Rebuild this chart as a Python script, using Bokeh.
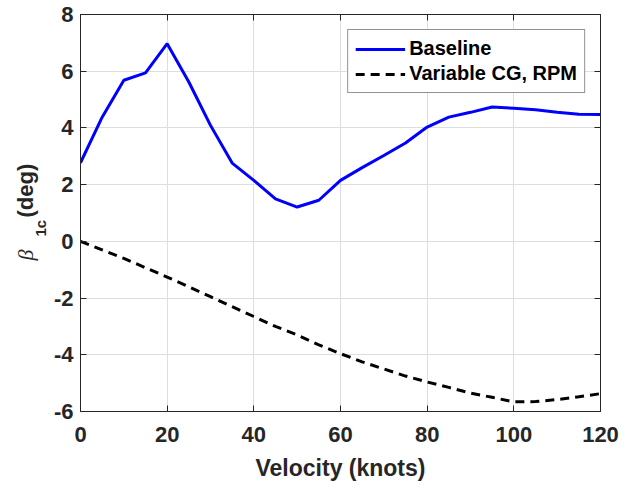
import math
from bokeh.plotting import figure
from bokeh.layouts import row
from bokeh.models import (Range1d, LinearAxis, FixedTicker, Legend, LegendItem,
                          CustomLabelingPolicy)
from bokeh.core.properties import value
from bokeh.embed import file_html
from bokeh.resources import INLINE

# ---- data ----
velocity = [0, 5, 10, 15, 20, 25, 30, 35, 40, 45, 50, 55, 60,
            65, 70, 75, 80, 85, 90, 95, 100, 105, 110, 115, 120]
baseline = [2.77, 4.38, 5.68, 5.94, 6.97, 5.62, 4.09, 2.76, 2.15, 1.50, 1.21, 1.45, 2.15,
            2.60, 3.03, 3.47, 4.03, 4.38, 4.55, 4.74, 4.69, 4.64, 4.55, 4.48, 4.47]
variable_cg_rpm = [0.0, -0.30, -0.60, -0.93, -1.26, -1.60, -1.95, -2.30, -2.65, -3.00, -3.30, -3.65, -3.96,
                   -4.25, -4.50, -4.75, -4.96, -5.15, -5.35, -5.50, -5.66, -5.65, -5.58, -5.48, -5.37]
x_ticks = [0, 20, 40, 60, 80, 100, 120]
y_ticks = [-6, -4, -2, 0, 2, 4, 6, 8]
y_tick_labels = ["-6", "-4", "-2", "0", "2", "4", "6", "8"]

AX = "#262626"
FONT = "Liberation Sans"

p = figure(width=583, height=486, output_backend="svg", toolbar_location=None,
           x_range=Range1d(0, 120), y_range=Range1d(-6, 8),
           min_border_left=28, min_border_right=33, min_border_top=14, min_border_bottom=75)
p.background_fill_color = "white"
p.border_fill_color = "white"
p.outline_line_color = AX
p.outline_line_width = 1

r1 = p.line(velocity, baseline, line_color="#0000ff", line_width=3)
r2 = p.line(velocity, variable_cg_rpm, line_color="black", line_width=3, line_dash="9 6")

for ax in (p.xaxis[0], p.yaxis[0]):
    ax.axis_line_color = AX
    ax.major_tick_line_color = AX
    ax.major_tick_in = 6
    ax.major_tick_out = 0
    ax.minor_tick_line_color = None
    ax.major_label_text_font = FONT
    ax.major_label_text_font_style = "bold"
    ax.major_label_text_font_size = "22px"
    ax.major_label_text_color = AX

p.xaxis[0].ticker = FixedTicker(ticks=x_ticks)
p.yaxis[0].ticker = FixedTicker(ticks=y_ticks)
p.yaxis[0].major_label_overrides = {t: s for t, s in zip(y_ticks, y_tick_labels)}
p.xaxis[0].major_label_standoff = 15
p.yaxis[0].major_label_standoff = 7
p.xaxis[0].axis_label = "Velocity (knots)"
p.xaxis[0].axis_label_text_font = FONT
p.xaxis[0].axis_label_text_font_style = "bold"
p.xaxis[0].axis_label_text_font_size = "23px"
p.xaxis[0].axis_label_text_color = AX
p.xaxis[0].axis_label_standoff = 10

# box axes (top/right) with inward ticks, no labels
hide = "const ids = [...indices]; for (const i of ids) indices.unset(i); return indices"
top = LinearAxis(ticker=FixedTicker(ticks=x_ticks), major_label_text_font_size="0px",
                 major_label_policy=CustomLabelingPolicy(code=hide),
                 major_label_standoff=0, major_tick_in=6, major_tick_out=0,
                 minor_tick_line_color=None, axis_line_color=AX, major_tick_line_color=AX)
right = LinearAxis(ticker=FixedTicker(ticks=y_ticks), major_label_text_font_size="0px",
                   major_label_policy=CustomLabelingPolicy(code=hide),
                   major_label_standoff=0, major_tick_in=6, major_tick_out=0,
                   minor_tick_line_color=None, axis_line_color=AX, major_tick_line_color=AX)
p.add_layout(top, "above")
p.add_layout(right, "right")

p.xgrid.ticker = FixedTicker(ticks=x_ticks)
p.ygrid.ticker = FixedTicker(ticks=y_ticks)
p.grid.grid_line_color = "#dedede"
p.grid.grid_line_width = 1

legend = Legend(items=[LegendItem(label="Baseline", renderers=[r1]),
                       LegendItem(label="Variable CG, RPM", renderers=[r2])],
                location="top_right", margin=15, padding=7, spacing=2,
                glyph_width=50, label_standoff=4,
                label_text_font=FONT, label_text_font_style="bold",
                label_text_font_size="20px", label_text_color="black",
                border_line_color=AX, border_line_width=1,
                background_fill_color="white", background_fill_alpha=1.0)
p.add_layout(legend, "center")

# left strip holding the y-axis label: beta_1c (deg)
lab = figure(width=50, height=486, output_backend="svg", toolbar_location=None,
             x_range=Range1d(0, 50), y_range=Range1d(-411, -14),
             min_border_left=0, min_border_right=0, min_border_top=14, min_border_bottom=75,
             x_axis_location=None, y_axis_location=None)
lab.grid.visible = False
lab.outline_line_color = None
lab.background_fill_color = "white"
lab.border_fill_color = "white"

ylabel_parts = ["β", "1c", "(deg)"]
lab.text(x=[12], y=[-260], text=[ylabel_parts[0]], angle=math.pi / 2,
         text_align="left", text_baseline="top",
         text_font=value("Liberation Serif"), text_font_style="italic",
         text_font_size="22px", text_color=AX)
lab.text(x=[31], y=[-236], text=[ylabel_parts[1]], angle=math.pi / 2,
         text_align="left", text_baseline="top",
         text_font=value(FONT), text_font_style="bold",
         text_font_size="15px", text_color=AX)
lab.text(x=[12], y=[-217], text=[ylabel_parts[2]], angle=math.pi / 2,
         text_align="left", text_baseline="top",
         text_font=value(FONT), text_font_style="bold",
         text_font_size="22px", text_color=AX)

layout = row(lab, p, spacing=0)
open("out.html", "w").write(file_html(layout, INLINE))
